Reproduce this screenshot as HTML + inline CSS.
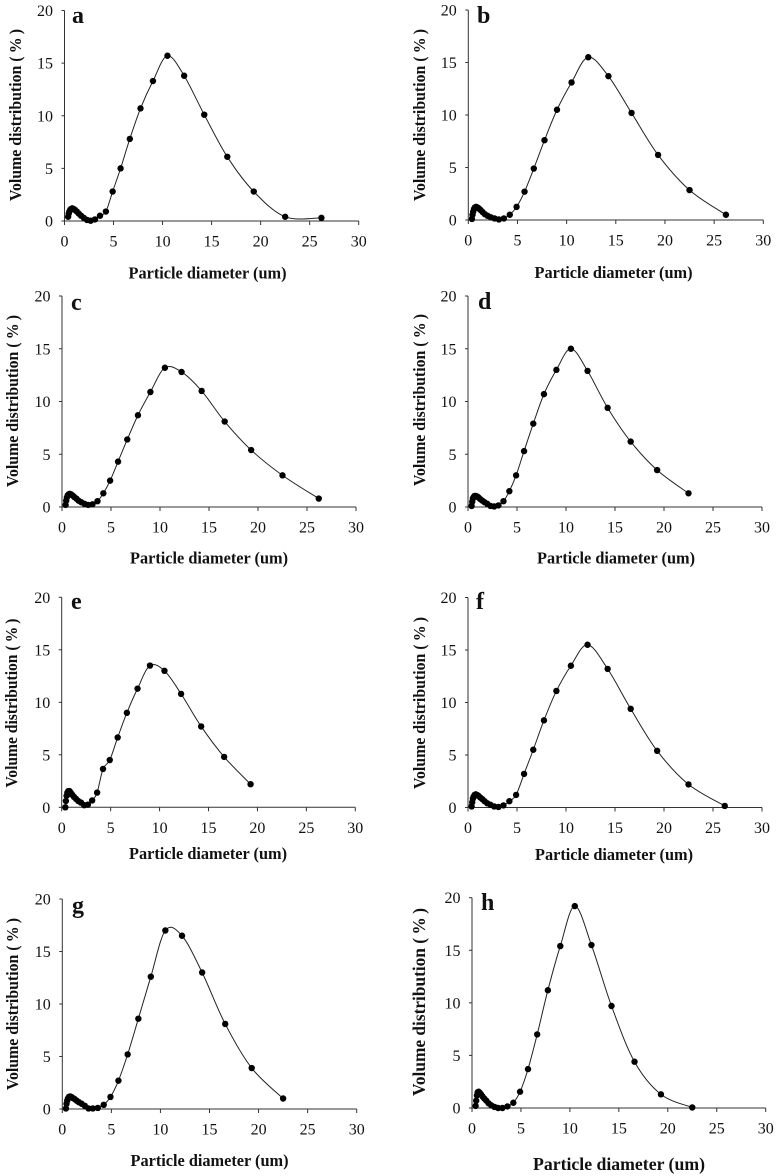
<!DOCTYPE html>
<html lang="en">
<head>
<meta charset="utf-8">
<title>Particle size distributions, panels a to h</title>
<style>
html,body{margin:0;padding:0;background:#fff;}
#figure{display:block;width:777px;height:1176px;filter:blur(0.3px);}
text{font-family:"Liberation Serif",serif;fill:#111;}
.tick{font-size:16px;}
.title{font-weight:bold;}
.letter{font-size:24px;font-weight:bold;}
.axis{stroke:#333;stroke-width:1;fill:none;}
.curve{stroke:#222;stroke-width:1;fill:none;}
.dot{fill:#000;}
</style>
</head>
<body>
<svg id="figure" xmlns="http://www.w3.org/2000/svg" width="777" height="1176" viewBox="0 0 777 1176"></svg>
<script>
// Shared data
const diameters = [0.37,0.43,0.50,0.58,0.68,0.79,0.92,1.07,1.25,1.46,1.69,1.97,2.30,2.67,3.11,3.62,4.22,4.91,5.72,6.66,7.75,9.02,10.5,12.2,14.25,16.6,19.3,22.5,26.2];
const xTicks = [0,5,10,15,20,25,30];
const yTicks = [0,5,10,15,20];
const xAxisLabel = "Particle diameter (um)";
const yAxisLabel = "Volume distribution (\u2009%\u2009)";

// Series values, one array per panel (missing trailing bins are simply shorter)
const seriesA = [0.4,0.7,0.9,1.05,1.15,1.2,1.15,1.05,0.9,0.7,0.5,0.3,0.1,0.03,0.15,0.5,0.9,2.8,5.0,7.8,10.7,13.3,15.7,13.8,10.1,6.1,2.8,0.4,0.3];
const seriesB = [0.1,0.5,0.8,1.05,1.2,1.25,1.2,1.1,0.95,0.75,0.55,0.4,0.25,0.15,0.05,0.15,0.5,1.25,2.7,4.9,7.6,10.5,13.1,15.5,13.7,10.2,6.2,2.85,0.5];
const seriesC = [0.2,0.6,0.9,1.1,1.2,1.25,1.2,1.1,0.95,0.8,0.6,0.45,0.3,0.2,0.25,0.55,1.3,2.5,4.3,6.4,8.7,10.9,13.2,12.8,11.0,8.1,5.4,3.0,0.8];
const seriesD = [0.1,0.5,0.8,0.95,1.05,1.05,1.0,0.9,0.75,0.6,0.45,0.3,0.1,0.05,0.15,0.55,1.5,3.0,5.3,7.9,10.7,13.0,15.0,12.9,9.4,6.2,3.5,1.3];
const seriesE = [0.0,0.6,1.1,1.4,1.55,1.55,1.4,1.2,1.0,0.8,0.6,0.45,0.2,0.25,0.65,1.4,3.65,4.5,6.65,9.0,11.3,13.5,13.0,10.8,7.7,4.8,2.2];
const seriesF = [0.1,0.5,0.85,1.05,1.2,1.25,1.2,1.1,0.95,0.8,0.6,0.4,0.25,0.1,0.05,0.2,0.6,1.2,3.2,5.5,8.3,11.1,13.5,15.5,13.2,9.4,5.4,2.2,0.15];
const seriesG = [0.05,0.5,0.8,1.0,1.15,1.2,1.15,1.05,0.95,0.8,0.65,0.5,0.3,0.05,0.05,0.1,0.4,1.15,2.7,5.2,8.6,12.6,17.0,16.5,13.0,8.1,3.9,1.0];
const seriesH = [0.2,0.7,1.2,1.5,1.55,1.45,1.3,1.1,0.9,0.7,0.45,0.25,0.1,0.0,0.0,0.15,0.5,1.55,3.7,7.0,11.2,15.4,19.2,15.5,9.7,4.4,1.3,0.05];

const svg = document.getElementById('figure');
const NS = 'http://www.w3.org/2000/svg';

function make(parent, tag, attrs, text) {
  const el = document.createElementNS(NS, tag);
  for (const k in attrs) el.setAttribute(k, attrs[k]);
  if (text !== undefined) el.textContent = text;
  parent.appendChild(el);
  return el;
}

function smoothPath(pts) {
  let d = 'M' + pts[0][0].toFixed(2) + ' ' + pts[0][1].toFixed(2);
  for (let i = 0; i < pts.length - 1; i++) {
    const p0 = pts[Math.max(i - 1, 0)];
    const p1 = pts[i];
    const p2 = pts[i + 1];
    const p3 = pts[Math.min(i + 2, pts.length - 1)];
    const c1x = p1[0] + (p2[0] - p0[0]) / 6;
    const c1y = p1[1] + (p2[1] - p0[1]) / 6;
    const c2x = p2[0] - (p3[0] - p1[0]) / 6;
    const c2y = p2[1] - (p3[1] - p1[1]) / 6;
    d += 'C' + c1x.toFixed(2) + ' ' + c1y.toFixed(2) + ' ' + c2x.toFixed(2) + ' ' + c2y.toFixed(2) + ' ' + p2[0].toFixed(2) + ' ' + p2[1].toFixed(2);
  }
  return d;
}

function drawPanel(letter, values, box) {
  const g = make(svg, 'g', {});
  
  

  const sx = v => box.left + (box.right - box.left) * v / 30;
  const sy = v => box.bottom - (box.bottom - box.top) * v / 20;

  const xAxis = make(g, 'line', {class: 'axis', x1: box.left, x2: box.right, y1: box.bottom, y2: box.bottom});
  
  
  const yAxis = make(g, 'line', {class: 'axis', x1: box.left, x2: box.left, y1: box.top, y2: box.bottom});
  
  

  xTicks.forEach(t => {
    make(g, 'line', {class: 'axis', x1: sx(t), x2: sx(t), y1: box.bottom, y2: box.bottom + 4});
    const label = make(g, 'text', {class: 'tick', x: sx(t), y: box.bottom + 25.5, 'text-anchor': 'middle'}, String(t));
    
    
  });
  yTicks.forEach(t => {
    make(g, 'line', {class: 'axis', x1: box.left - 3, x2: box.left, y1: sy(t), y2: sy(t)});
    const label = make(g, 'text', {class: 'tick', x: box.left - 11.5, y: sy(t) + 5.5, 'text-anchor': 'end'}, String(t));
    
    
  });

  const pts = values.map((v, i) => [sx(diameters[i]), sy(v)]);
  const curve = make(g, 'path', {class: 'curve', d: smoothPath(pts)});
  
  
  pts.forEach(p => {
    const dot = make(g, 'circle', {class: 'dot', cx: p[0], cy: p[1], r: 3.2});
    
    
  });

  const size = box.titleSize || 16.4;
  const xLen = box.xTitleLen || 158;
  const yLen = box.yTitleLen || 172;
  const xTitle = make(g, 'text', {class: 'title', x: box.xTitleX, y: box.xTitleY, 'text-anchor': 'middle', textLength: xLen, lengthAdjust: 'spacingAndGlyphs', style: 'font-size:' + size + 'px'}, xAxisLabel);
  
  
  const yTitle = make(g, 'text', {class: 'title', x: 0, y: 0, 'text-anchor': 'middle', textLength: yLen, lengthAdjust: 'spacingAndGlyphs', style: 'font-size:' + size + 'px', transform: 'translate(' + box.yTitleX + ' ' + box.yTitleY + ') rotate(-90)'}, yAxisLabel);
  
  
  const tag = make(g, 'text', {class: 'letter', x: box.letterX, y: box.letterY}, letter);
  
  
}

drawPanel('a', seriesA, {left:64.5,right:358.7,top:10.5,bottom:221,xTitleX:207.5,xTitleY:278.5,yTitleX:21,yTitleY:115,letterX:72,letterY:23});
drawPanel('b', seriesB, {left:468.3,right:763.3,top:10,bottom:220,xTitleX:613.5,xTitleY:278,yTitleX:425,yTitleY:115,letterX:477,letterY:23});
drawPanel('c', seriesC, {left:62,right:356,top:296,bottom:507,xTitleX:209,xTitleY:563.5,yTitleX:18,yTitleY:401,letterX:71,letterY:310});
drawPanel('d', seriesD, {left:468,right:762,top:296,bottom:507,xTitleX:616,xTitleY:563.5,yTitleX:425,yTitleY:400,letterX:478,letterY:309});
drawPanel('e', seriesE, {left:61.7,right:355.3,top:597.3,bottom:807.3,xTitleX:208,xTitleY:859,yTitleX:17,yTitleY:703,letterX:71,letterY:609,yTitleLen:169});
drawPanel('f', seriesF, {left:468,right:762,top:597.5,bottom:807.5,xTitleX:614,xTitleY:860,yTitleX:425,yTitleY:703,letterX:476,letterY:609});
drawPanel('g', seriesG, {left:62.3,right:356.7,top:899,bottom:1109,xTitleX:209.5,xTitleY:1166,yTitleX:18,yTitleY:1004,letterX:72,letterY:913});
drawPanel('h', seriesH, {left:472,right:765.7,top:897.7,bottom:1108,xTitleX:619,xTitleY:1170,yTitleX:425,yTitleY:1002,letterX:481,letterY:910,titleSize:17.6,xTitleLen:172,yTitleLen:188});
</script>
</body>
</html>
